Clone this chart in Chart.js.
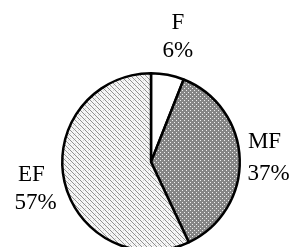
<!DOCTYPE html>
<html>
<head>
<meta charset="utf-8">
<script src="https://cdn.jsdelivr.net/npm/chart.js@4/dist/chart.umd.min.js"></script>
<style>
    html, body { margin: 0; padding: 0; background: #fff; overflow: hidden; }
    #wrap { width: 289px; height: 256px; }
</style>
</head>
<body>
<div id="wrap"><canvas id="myChart"></canvas></div>
<script>
const categories = ['F', 'MF', 'EF'];
const shares = [6, 37, 57];
const shareLabels = ['6%', '37%', '57%'];

// small tiles that imitate the printed screen tones
function makePattern(draw, size) {
    var c = document.createElement('canvas');
    c.width = size;
    c.height = size;
    draw(c.getContext('2d'));
    return c.getContext('2d').createPattern(c, 'repeat');
}

var plain = '#ffffff';
var dotted = makePattern(function (g) {
    g.fillStyle = '#858585';
    g.fillRect(0, 0, 4, 4);
    g.fillStyle = '#f0f0f0';
    g.fillRect(0, 0, 1, 1);
    g.fillRect(2, 2, 1, 1);
}, 4);
var hatched = makePattern(function (g) {
    g.fillStyle = '#f6f6f6';
    g.fillRect(0, 0, 5, 5);
    g.fillStyle = '#8f8f8f';
    for (var i = 0; i < 5; i++) g.fillRect(i, i, 1, 1);
    g.fillStyle = '#d4d4d4';
    g.fillRect(3, 0, 1, 1);
    g.fillRect(0, 3, 1, 1);
}, 5);

// how far out each label sits, as a multiple of the radius, and a small sideways nudge
var labelDist = [1.43, 1.28, 1.38];
var labelNudge = [3, 0, 0];

var outsideLabels = {
    id: 'outsideLabels',
    afterDraw(chart) {
        var ctx = chart.ctx;
        var arcs = chart.getDatasetMeta(0).data;
        ctx.save();
        ctx.fillStyle = '#000';
        ctx.font = '23px "Liberation Serif", serif';
        ctx.textAlign = 'center';
        ctx.textBaseline = 'middle';
        arcs.forEach(function (arc, i) {
            var mid = (arc.startAngle + arc.endAngle) / 2;
            var d = arc.outerRadius * labelDist[i];
            var x = arc.x + Math.cos(mid) * d + labelNudge[i];
            var y = arc.y + Math.sin(mid) * d;
            var gap = i === 1 ? 16 : 14;
            ctx.fillText(categories[i], x, y - gap);
            ctx.fillText(shareLabels[i], x + (i === 0 ? 0 : 4), y + gap);
        });
        ctx.restore();
    }
};

var ctx = document.getElementById('myChart');
var myChart = new Chart(ctx, {
    type: 'pie',
    data: {
        labels: categories,
        datasets: [{
            data: shares,
            backgroundColor: [plain, dotted, hatched],
            borderColor: '#000',
            borderWidth: 2.5
        }]
    },
    options: {
        responsive: true,
        maintainAspectRatio: false,
        animation: false,
        layout: {
            padding: {top: 72, left: 61, right: 48, bottom: 4}
        },
        plugins: {
            legend: {display: false},
            tooltip: {enabled: false}
        }
    },
    plugins: [outsideLabels]
});
</script>
</body>
</html>
